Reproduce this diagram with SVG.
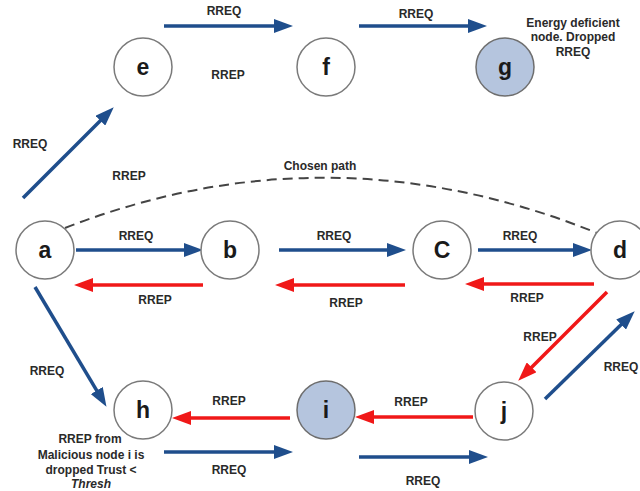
<svg xmlns="http://www.w3.org/2000/svg" width="640" height="491" viewBox="0 0 640 491">
<style>
.node{fill:#fff;stroke:#7a7a7a;stroke-width:1.5}
.mal{fill:#b5c5de;stroke:#6e6e6e;stroke-width:1.5}
.nl{font-family:"Liberation Sans",Arial,sans-serif;font-weight:bold;font-size:23px;fill:#1a1a1a;text-anchor:middle}
.lb{font-family:"Liberation Sans",Arial,sans-serif;font-weight:bold;font-size:12px;fill:#2a2a2a;text-anchor:middle}
.req{stroke:#1f4e8c;stroke-width:3.5;fill:none;marker-end:url(#ab)}
.rep{stroke:#f01818;stroke-width:3.5;fill:none;marker-end:url(#ar)}
.dash{stroke:#444;stroke-width:2;fill:none;stroke-dasharray:10 6}
</style>
<defs>
<marker id="ab" markerUnits="userSpaceOnUse" viewBox="0 0 19 14" markerWidth="19" markerHeight="14" refX="12" refY="7" orient="auto"><path d="M0,0 L19,7 L0,14 z" fill="#1f4e8c"/></marker>
<marker id="ar" markerUnits="userSpaceOnUse" viewBox="0 0 19 14" markerWidth="19" markerHeight="14" refX="12" refY="7" orient="auto"><path d="M0,0 L19,7 L0,14 z" fill="#f01818"/></marker>
</defs>
<rect width="640" height="491" fill="#fff"/>
<g id="connectors">
<path class="dash" d="M65,228 Q329,125 597,233"/>
<line class="req" x1="164" y1="26" x2="286" y2="26"/>
<line class="req" x1="359" y1="26" x2="480" y2="26"/>
<line class="req" x1="23" y1="198" x2="108.8" y2="112.2"/>
<line class="req" x1="76" y1="250" x2="196" y2="250"/>
<line class="rep" x1="203" y1="285" x2="81" y2="285"/>
<line class="req" x1="279" y1="250" x2="399" y2="250"/>
<line class="rep" x1="405" y1="285" x2="282" y2="285"/>
<line class="req" x1="478" y1="250" x2="585" y2="250"/>
<line class="rep" x1="594" y1="284" x2="472" y2="284"/>
<line class="req" x1="35" y1="287" x2="102.9" y2="400.8"/>
<line class="rep" x1="607" y1="292" x2="523.2" y2="375.8"/>
<line class="req" x1="545" y1="399" x2="629.7" y2="316.2"/>
<line class="rep" x1="473" y1="417" x2="362" y2="417"/>
<line class="req" x1="359" y1="457" x2="481" y2="457"/>
<line class="rep" x1="290" y1="418" x2="179" y2="418"/>
<line class="req" x1="164" y1="452" x2="286" y2="452"/>
<text class="lb" x="224" y="15">RREQ</text>
<text class="lb" x="416" y="18">RREQ</text>
<text class="lb" x="228" y="79">RREP</text>
<text class="lb" x="30" y="148">RREQ</text>
<text class="lb" x="129" y="180">RREP</text>
<text class="lb" x="320" y="170">Chosen path</text>
<text class="lb" x="136" y="240">RREQ</text>
<text class="lb" x="155" y="304">RREP</text>
<text class="lb" x="334" y="240">RREQ</text>
<text class="lb" x="346" y="307">RREP</text>
<text class="lb" x="520" y="240">RREQ</text>
<text class="lb" x="527" y="302">RREP</text>
<text class="lb" x="540" y="341">RREP</text>
<text class="lb" x="621" y="371">RREQ</text>
<text class="lb" x="47" y="375">RREQ</text>
<text class="lb" x="229" y="405">RREP</text>
<text class="lb" x="229" y="474">RREQ</text>
<text class="lb" x="411" y="406">RREP</text>
<text class="lb" x="423" y="485">RREQ</text>
</g>
<g id="node-e"><circle class="node" cx="143" cy="67" r="29"/><text class="nl" x="143" y="75">e</text></g>
<g id="node-f"><circle class="node" cx="326" cy="67" r="29"/><text class="nl" x="326" y="75">f</text></g>
<g id="node-g"><circle class="mal" cx="505" cy="67" r="29"/><text class="nl" x="505" y="75">g</text>
<text class="lb" x="573" y="27">Energy deficient</text>
<text class="lb" x="573" y="41">node. Dropped</text>
<text class="lb" x="573" y="56">RREQ</text></g>
<g id="node-a"><circle class="node" cx="45" cy="250" r="29"/><text class="nl" x="45" y="258">a</text></g>
<g id="node-b"><circle class="node" cx="230" cy="250" r="29"/><text class="nl" x="230" y="258">b</text></g>
<g id="node-c"><circle class="node" cx="442" cy="250" r="29"/><text class="nl" x="442" y="258">C</text></g>
<g id="node-d"><circle class="node" cx="620" cy="250" r="29"/><text class="nl" x="620" y="258">d</text></g>
<g id="node-h"><circle class="node" cx="143" cy="410" r="29"/><text class="nl" x="143" y="418">h</text>
<text class="lb" x="90" y="443">RREP from</text>
<text class="lb" x="91" y="459">Malicious node i is</text>
<text class="lb" x="91" y="474">dropped Trust &lt;</text>
<text class="lb" x="91" y="488" font-style="italic">Thresh</text></g>
<g id="node-i"><circle class="mal" cx="326" cy="410" r="29"/><text class="nl" x="326" y="418">i</text></g>
<g id="node-j"><circle class="node" cx="504" cy="411" r="29"/><text class="nl" x="504" y="419">j</text></g>
</svg>
